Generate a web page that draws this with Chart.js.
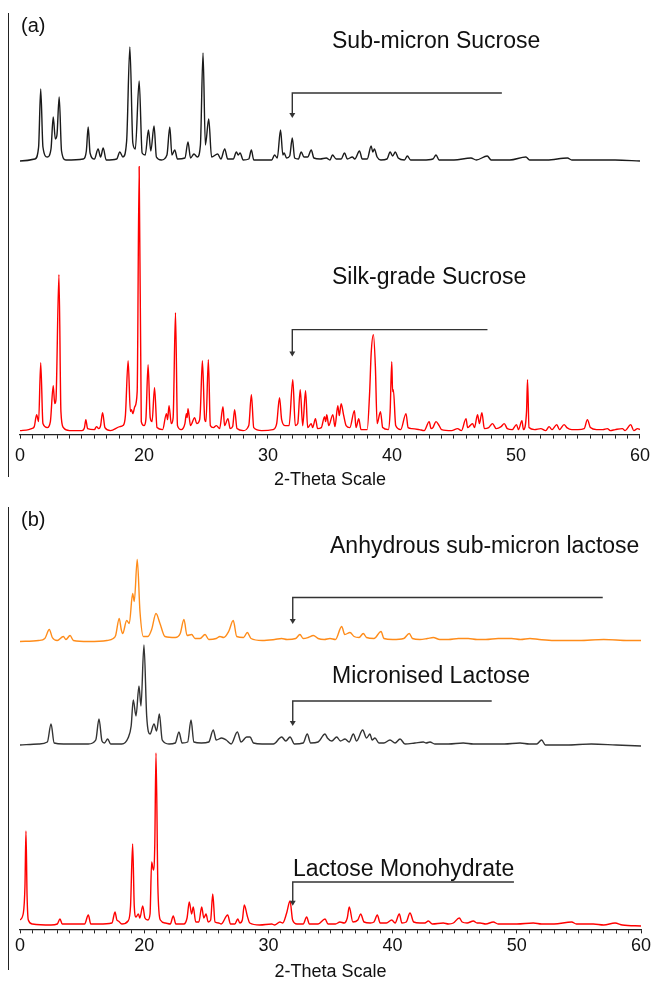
<!DOCTYPE html>
<html>
<head>
<meta charset="utf-8">
<script src="https://cdn.jsdelivr.net/npm/chart.js@4.4.1/dist/chart.umd.min.js"></script>
<style>
  html, body { margin: 0; padding: 0; background: #fff; overflow: hidden; }
  #page { position: relative; width: 657px; height: 981px; font-family: "Liberation Sans", Arial, sans-serif; color: #111; }
  canvas { position: absolute; left: 0; }
  .lbl { position: absolute; font-size: 23px; line-height: 1; white-space: nowrap; }
  .tag { position: absolute; font-size: 20px; line-height: 1; }
  .frame { position: absolute; left: 8px; width: 0; border-left: 1.4px solid #222; }
</style>
</head>
<body>
<div id="page">
  <div class="frame" style="top:13px;height:464px"></div>
  <div class="frame" style="top:507px;height:463px"></div>
  <canvas id="chartA" width="657" height="485" style="top:0"></canvas>
  <canvas id="chartB" width="657" height="493" style="top:488px"></canvas>
  <div class="tag" style="left:21px;top:15px">(a)</div>
  <div class="lbl" style="left:332px;top:29px">Sub-micron Sucrose</div>
  <div class="lbl" style="left:332px;top:265px">Silk-grade Sucrose</div>
  <div class="tag" style="left:21px;top:509px">(b)</div>
  <div class="lbl" style="left:330px;top:534px">Anhydrous sub-micron lactose</div>
  <div class="lbl" style="left:332px;top:664px">Micronised Lactose</div>
  <div class="lbl" style="left:293px;top:857px">Lactose Monohydrate</div>
</div>
<script>
// 2-theta axis: runs 10..60, first major label printed as "0"
const tickValues = [10, 20, 30, 40, 50, 60];
const tickText = ['0', '20', '30', '40', '50', '60'];

// [2-theta, intensity above baseline]
const subMicronSucrose = [
  [10,0],[11.2,2],[11.5,14],[11.67,72],[11.85,14],[12.2,4],[12.5,12],[12.68,44],[12.85,22],[12.98,26],[13.16,64],[13.35,10],[13.7,1],
  [15.1,2],[15.35,10],[15.5,34],[15.65,8],[16.0,2],[16.3,12],[16.5,4],[16.71,13],[16.95,1],
  [17.8,2],[18.05,9],[18.3,4],[18.6,20],[18.86,114],[19.1,18],[19.3,12],[19.61,80],[19.85,8],[20.1,6],[20.36,31],[20.55,10],[20.81,35],[21.0,4],[21.4,1],
  [21.85,6],[22.08,34],[22.25,6],[22.48,11],[22.7,2],[23.3,3],[23.55,19],[23.75,3],[24.03,7],[24.3,4],[24.55,16],[24.76,108],[24.95,16],[25.22,42],[25.45,4],
  [25.94,7],[26.2,2],[26.51,12],[26.75,2],[27.2,2],[27.45,9],[27.6,6],[27.75,8],[28.0,1],[28.45,2],[28.66,11],[28.85,1],
  [30.3,1],[30.53,6],[30.75,3],[31.01,31],[31.2,6],[31.3,8],[31.5,3],[31.75,5],[31.96,23],[32.15,3],[32.45,2],[32.68,9],[32.9,4],[33.2,4],[33.49,11],[33.7,3],
  [34.2,2],[34.7,3],[35.0,1],[35.2,6],[35.5,2],[35.9,2],[36.17,8],[36.4,2],[36.8,4],[37.0,2],[37.38,10],[37.6,2],[38.0,2],[38.32,15],[38.45,9],[38.58,12],[38.8,4],
  [39.1,1],[39.6,2],[39.85,9],[40.05,5],[40.27,9],[40.5,3],[41.0,1],[41.24,5],[41.5,1],[42.5,1],[43.3,2],[43.55,6],[43.8,1],[45.0,1],[46.37,3],[46.8,1],
  [47.68,5],[48.0,1],[49.5,1],[50.8,4],[51.1,1],[52.5,1],[54.15,3],[54.5,1],[56,1],[58,1],[60,0]
];

const silkGradeSucrose = [
  [10,1],[10.7,2],[10.94,3],[11.15,5],[11.34,17],[11.5,10],[11.67,69],[11.85,8],[12.2,4],[12.45,10],[12.68,46],[12.8,28],[12.9,32],[13.14,157],[13.3,20],[13.5,4],[14.0,1],
  [15.0,1],[15.2,4],[15.31,12],[15.45,3],[16.0,2],[16.17,5],[16.35,3],[16.5,6],[16.66,19],[16.85,4],[17.3,1],[18.05,5],[18.3,6],[18.5,16],[18.72,71],[18.9,20],
  [18.99,22],[19.1,18],[19.26,25],[19.45,40],[19.61,265],[19.78,10],[20.0,6],[20.15,12],[20.33,67],[20.5,14],[20.65,10],[20.85,44],[21.05,4],[21.5,2],
  [21.81,18],[21.9,12],[22.02,26],[22.2,8],[22.35,14],[22.54,119],[22.7,6],[23.0,2],[23.3,8],[23.42,18],[23.48,14],[23.55,23],[23.75,6],[24.09,14],[24.25,8],
  [24.49,12],[24.55,22],[24.71,71],[24.9,12],[25.0,10],[25.19,72],[25.35,6],[25.6,4],[25.84,6],[26.1,3],[26.37,25],[26.5,6],[26.77,13],[26.95,3],[27.15,5],
  [27.31,22],[27.5,3],[28.0,1],[28.45,6],[28.66,37],[28.85,4],[29.5,1],[30.4,2],[30.7,8],[30.93,34],[31.1,12],[31.4,6],[31.7,6],[32.0,52],[32.2,6],[32.4,8],
  [32.6,42],[32.8,6],[33.03,41],[33.2,4],[33.49,8],[33.6,4],[33.83,13],[34.0,3],[34.3,4],[34.56,15],[34.65,10],[34.74,17],[34.9,6],[35.23,17],[35.4,5],
  [35.63,26],[35.75,16],[35.9,28],[36.09,17],[36.3,6],[36.6,4],[36.97,21],[37.1,4],[37.32,13],[37.5,2],[38.0,2],[38.2,40],[38.32,78],[38.5,97],[38.66,65],
  [38.8,8],[39.07,20],[39.25,4],[39.7,2],[39.85,20],[39.98,70],[40.05,40],[40.11,42],[40.3,6],[40.7,2],[41.13,18],[41.3,4],[41.6,3],[42.2,2],[42.6,1],
  [43.0,10],[43.15,3],[43.3,4],[43.55,10],[43.8,6],[44.0,2],[44.8,1],[45.29,3],[45.6,1],[45.97,13],[46.1,4],[46.3,6],[46.5,8],[46.65,4],[46.9,17],[47.05,8],
  [47.25,19],[47.45,3],[47.8,4],[48.11,8],[48.4,3],[48.8,5],[49.05,8],[49.3,3],[49.7,2],[50.04,7],[50.2,2],[50.48,11],[50.6,2],[50.85,20],[50.93,52],[51.05,4],
  [51.5,2],[52.0,3],[52.4,1],[52.67,5],[52.9,2],[53.29,7],[53.5,2],[53.88,7],[54.1,4],[54.5,2],[55.0,2],[55.5,3],[55.76,12],[56.0,4],[56.5,2],[57.0,2],
  [57.37,3],[57.6,1],[58.0,2],[58.58,3],[58.8,1],[59.25,7],[59.5,1],[59.8,3],[60,2]
];

const anhydrousSubMicronLactose = [
  [10,0],[11.5,1],[12.0,3],[12.36,12],[12.6,4],[13.0,1],[13.49,5],[13.7,2],[14.03,6],[14.3,1],[15.5,0],[17.0,1],[17.51,3],[17.7,6],[17.99,23],[18.15,12],
  [18.27,8],[18.59,21],[18.8,18],[19.07,48],[19.2,40],[19.44,82],[19.66,30],[19.93,5],[20.3,5],[20.6,12],[20.95,28],[21.27,18],[21.67,5],[22.5,4],[22.9,8],
  [23.2,22],[23.45,6],[23.82,7],[24.1,3],[24.5,3],[24.9,7],[25.2,2],[25.8,3],[26.1,5],[26.4,4],[26.8,10],[27.17,21],[27.45,5],[28.0,4],[28.3,9],[28.6,3],
  [29.5,1],[30.5,2],[31.07,3],[31.5,2],[32.2,3],[32.54,7],[32.8,3],[33.2,4],[33.62,6],[34.0,3],[34.5,2],[34.96,3],[35.4,2],[35.9,15],[36.15,7],[36.57,9],
  [36.9,5],[37.3,4],[37.64,8],[37.9,4],[38.5,3],[39.07,10],[39.3,3],[40.0,2],[40.9,3],[41.34,8],[41.6,3],[42.2,2],[42.8,3],[43.28,4],[43.8,2],[44.5,2],
  [45.3,3],[46.09,3],[46.8,2],[47.5,2],[48.5,3],[49.58,3],[50.3,2],[51.06,3],[51.8,2],[53,1],[55,1],[57,2],[59,1],[60,1]
];

const micronisedLactose = [
  [10,1],[11.5,2],[12.2,4],[12.5,22],[12.75,3],[13.5,2],[15.5,2],[16.1,6],[16.36,27],[16.6,5],[16.8,3],[17.06,7],[17.3,2],[18.2,2],[18.7,8],[18.95,20],
  [19.12,46],[19.34,30],[19.58,60],[19.74,40],[19.98,101],[20.2,30],[20.47,12],[20.79,22],[21.0,15],[21.22,32],[21.45,6],[22.0,2],[22.5,3],[22.8,14],
  [23.05,3],[23.5,4],[23.77,26],[24.0,4],[24.6,3],[25.2,4],[25.56,16],[25.8,6],[26.24,8],[26.6,6],[27.0,2],[27.5,14],[27.8,4],[28.25,9],[28.52,9],[28.8,3],
  [29.5,2],[30.4,2],[31.07,9],[31.4,5],[31.74,9],[32.1,2],[32.8,3],[33.13,12],[33.4,3],[34.0,4],[34.56,12],[34.75,8],[35.1,5],[35.5,9],[35.8,5],[36.17,7],
  [36.5,4],[36.84,12],[37.1,5],[37.59,16],[37.9,8],[38.18,12],[38.35,6],[38.58,8],[38.9,3],[39.3,3],[39.79,6],[40.2,3],[40.6,7],[41.0,2],[41.8,3],[42.47,4],
  [42.7,3],[43.01,4],[43.4,2],[44.5,2],[45.69,3],[46.5,2],[47.98,2],[49.0,2],[50.26,3],[51.0,2],[51.6,2],[52.0,6],[52.3,1],[54,1],[56,2],[58,1],[60,0]
];

const lactoseMonohydrate = [
  [10,6],[10.27,13],[10.4,40],[10.48,95],[10.57,30],[10.67,6],[11.0,2],[12.5,1],[13.0,2],[13.22,7],[13.4,2],[15.2,2],[15.5,11],[15.7,2],[16.36,2],[17.4,3],
  [17.65,14],[17.8,6],[17.92,5],[18.2,2],[18.7,5],[18.9,20],[19.07,82],[19.2,20],[19.34,9],[19.53,12],[19.65,8],[19.88,20],[20.06,8],[20.3,6],[20.47,12],
  [20.6,64],[20.74,56],[20.85,80],[20.95,173],[21.1,40],[21.3,6],[21.7,3],[22.1,2],[22.34,10],[22.55,2],[23.2,2],[23.45,8],[23.63,24],[23.82,12],[23.95,19],
  [24.15,4],[24.4,4],[24.63,19],[24.8,8],[24.98,12],[25.15,4],[25.35,6],[25.52,32],[25.7,4],[26.0,3],[26.2,2],[26.72,11],[26.95,2],[27.3,2],[27.53,7],
  [27.7,3],[27.9,6],[28.06,21],[28.3,10],[28.5,3],[29.3,1],[30.27,2],[30.5,1],[30.93,4],[31.15,3],[31.47,13],[31.74,25],[31.95,6],[32.3,2],[32.8,2],
  [33.08,9],[33.3,2],[34.0,2],[34.56,7],[34.8,2],[35.4,2],[35.76,4],[36.1,3],[36.35,8],[36.51,19],[36.8,4],[37.2,6],[37.43,12],[37.7,4],[38.2,3],[38.5,4],
  [38.77,11],[39.0,3],[39.5,3],[39.93,6],[40.2,3],[40.54,12],[40.75,3],[41.1,4],[41.4,13],[41.7,4],[42.2,3],[42.6,3],[42.88,5],[43.2,2],[44.08,3],[44.5,2],
  [44.89,3],[45.37,8],[45.6,4],[46.0,3],[46.5,5],[46.8,3],[47.04,3],[47.5,2],[48.11,4],[48.5,2],[50.0,2],[51.33,3],[52.0,2],[53,2],[54.42,4],[54.8,2],
  [56.16,2],[57.0,1],[57.91,3],[58.5,1],[60,0]
];

// bracket arrows pointing at the ~32 deg peak: start, end, line level, tip level
const arrowStart = 31.96;
const sucroseArrowEnds = [48.86, 47.7];
const sucroseArrowLevels = [68, 102];
const sucroseArrowTips = [43, 75];
const lactoseArrowEnds = [56.92, 47.98, 49.77];
const lactoseArrowLevels = [44, 45, 44];
const lactoseArrowTips = [17.5, 20, 20.3];

// draws the hooked arrows
const bracketArrows = {
  id: 'bracketArrows',
  afterDatasetsDraw(chart, args, opts) {
    const ctx = chart.ctx;
    const xs = chart.scales.x;
    (opts.items || []).forEach(a => {
      const ys = chart.scales[a.axis];
      const x0 = xs.getPixelForValue(a.from);
      const x1 = xs.getPixelForValue(a.to);
      const yl = ys.getPixelForValue(a.level);
      const yt = ys.getPixelForValue(a.tip);
      ctx.save();
      ctx.strokeStyle = '#333';
      ctx.fillStyle = '#333';
      ctx.lineWidth = 1.4;
      ctx.beginPath();
      ctx.moveTo(x1, yl);
      ctx.lineTo(x0, yl);
      ctx.lineTo(x0, yt - 4);
      ctx.stroke();
      ctx.beginPath();
      ctx.moveTo(x0 - 3, yt - 5);
      ctx.lineTo(x0 + 3, yt - 5);
      ctx.lineTo(x0, yt);
      ctx.closePath();
      ctx.fill();
      ctx.restore();
    });
  }
};

function band(offsetBelow, areaHeight) {
  return { display: false, min: -offsetBelow, max: areaHeight - offsetBelow };
}

function traceSet(label, data, color, axis) {
  return {
    label: label,
    data: data,
    borderColor: color,
    borderWidth: 1.4,
    pointRadius: 0,
    cubicInterpolationMode: 'monotone',
    fill: false,
    yAxisID: axis
  };
}

function xAxis(tickPad, titlePadTop, titleLine) {
  return {
    type: 'linear',
    min: 10,
    max: 60,
    border: { display: true, color: '#222', width: 1.2 },
    grid: { drawOnChartArea: false, drawTicks: true, tickLength: 4, color: '#222' },
    ticks: {
      stepSize: 1,
      autoSkip: false,
      maxRotation: 0,
      padding: tickPad,
      color: '#111',
      font: { family: '"Liberation Sans", Arial, sans-serif', size: 18, lineHeight: 1.2 },
      callback: function(value) {
        const i = tickValues.indexOf(value);
        return i >= 0 ? tickText[i] : '';
      }
    },
    title: {
      display: true,
      text: '2-Theta Scale',
      color: '#111',
      padding: { top: titlePadTop, bottom: 0 },
      font: { family: '"Liberation Sans", Arial, sans-serif', size: 18, lineHeight: titleLine }
    }
  };
}

function makeChart(id, datasets, yScales, arrows, xScale) {
  const scales = Object.assign({ x: xScale }, yScales);
  return new Chart(document.getElementById(id), {
    type: 'line',
    data: { datasets: datasets },
    options: {
      responsive: false,
      animation: false,
      devicePixelRatio: 1,
      layout: { padding: { left: 20, right: 16, top: 10, bottom: 0 } },
      scales: scales,
      plugins: {
        legend: { display: false },
        tooltip: { enabled: false },
        bracketArrows: { items: arrows }
      }
    },
    plugins: [bracketArrows]
  });
}

// panel (a)
const areaA = 424.6;
makeChart('chartA', [
  traceSet('Sub-micron Sucrose', subMicronSucrose, '#1a1a1a', 'yTop'),
  traceSet('Silk-grade Sucrose', silkGradeSucrose, '#ff0000', 'yBottom')
], {
  yTop: band(273.6, areaA),
  yBottom: band(3, areaA)
}, [
  { axis: 'yTop', from: arrowStart, to: sucroseArrowEnds[0], level: sucroseArrowLevels[0], tip: sucroseArrowTips[0] },
  { axis: 'yBottom', from: arrowStart, to: sucroseArrowEnds[1], level: sucroseArrowLevels[1], tip: sucroseArrowTips[1] }
], xAxis(7, 0, 0.6));

// panel (b)
const areaB = 431.4;
makeChart('chartB', [
  traceSet('Anhydrous sub-micron lactose', anhydrousSubMicronLactose, '#ff8c1a', 'yTop'),
  traceSet('Micronised Lactose', micronisedLactose, '#333333', 'yMid'),
  traceSet('Lactose Monohydrate', lactoseMonohydrate, '#ff0000', 'yBottom')
], {
  yTop: band(287.9, areaB),
  yMid: band(183.4, areaB),
  yBottom: band(3.4, areaB)
}, [
  { axis: 'yTop', from: arrowStart, to: lactoseArrowEnds[0], level: lactoseArrowLevels[0], tip: lactoseArrowTips[0] },
  { axis: 'yMid', from: arrowStart, to: lactoseArrowEnds[1], level: lactoseArrowLevels[1], tip: lactoseArrowTips[1] },
  { axis: 'yBottom', from: arrowStart, to: lactoseArrowEnds[2], level: lactoseArrowLevels[2], tip: lactoseArrowTips[2] }
], xAxis(2, 4, 1.0));
</script>
</body>
</html>
